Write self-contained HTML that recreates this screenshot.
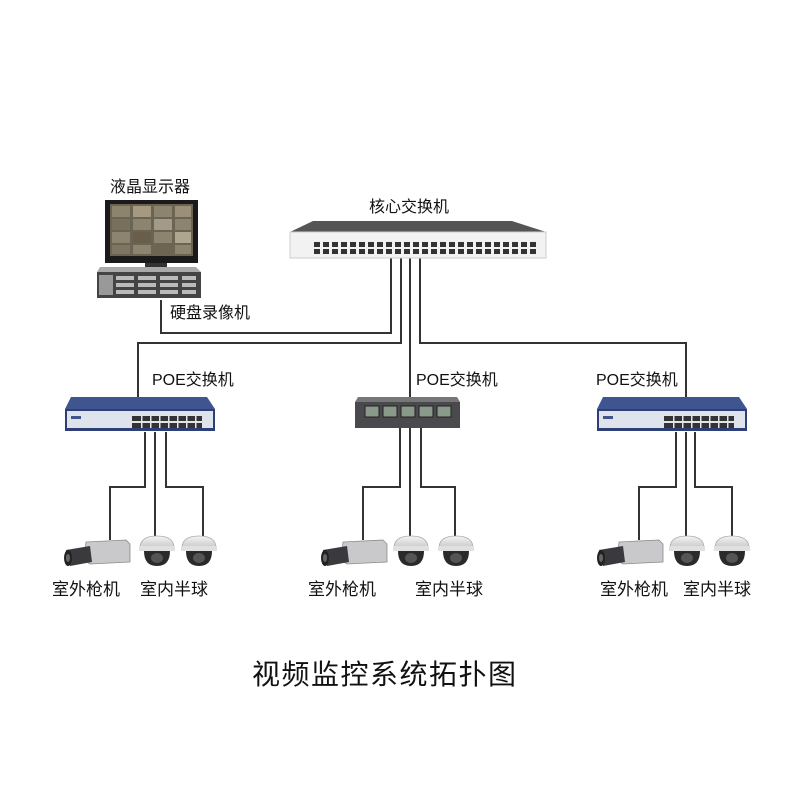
<!DOCTYPE html>
<html><head><meta charset="utf-8"><style>
html,body{margin:0;padding:0;background:#fff;}
svg{display:block}
text{font-family:"Liberation Sans","Noto Sans CJK SC",sans-serif;fill:#111;}
</style></head><body>
<svg width="800" height="785" viewBox="0 0 800 785" xmlns="http://www.w3.org/2000/svg">
<defs>
  <linearGradient id="dome" x1="0" y1="0" x2="0" y2="1"><stop offset="0" stop-color="#f4f4f4"/><stop offset="1" stop-color="#c8c8c8"/></linearGradient>
  <g id="bullet">
    <path d="M22 6 L62 4 L66 8 L66 26 L26 28 L20 24 Z" fill="#c9c9cc" stroke="#8a8a90" stroke-width="0.8"/>
    <path d="M2 14 L26 10 L28 26 L6 30 Z" fill="#3a3a3e"/>
    <ellipse cx="4" cy="22" rx="4" ry="8" fill="#222"/>
    <ellipse cx="4" cy="22" rx="2" ry="4" fill="#666"/>
  </g>
  <g id="domecam">
    <path d="M2 14 Q2 2 19 2 Q36 2 36 14 Z" fill="url(#dome)" stroke="#aaa" stroke-width="0.8"/>
    <rect x="1" y="12" width="36" height="5" fill="#e0e0e0"/>
    <path d="M6 17 Q6 32 19 32 Q32 32 32 17 Z" fill="#2a2a2a"/>
    <ellipse cx="19" cy="24" rx="6" ry="5" fill="#555"/>
  </g>
  <g id="poe">
    <path d="M6 0 L142 0 L150 12 L0 12 Z" fill="#3f5590"/>
    <rect x="0" y="12" width="150" height="22" fill="#2e3f78"/>
    <rect x="2" y="14" width="146" height="17" fill="#dfe3ec"/>
    <rect x="6" y="19" width="10" height="3" fill="#3f5590"/>
  </g>
</defs>

<!-- connector lines -->
<g fill="none" stroke="#333" stroke-width="2">
  <polyline points="161,300 161,333 391,333 391,258"/>
  <polyline points="138,397 138,343 401,343 401,258"/>
  <polyline points="410,258 410,398"/>
  <polyline points="686,397 686,343 420,343 420,258"/>
  <!-- left group -->
  <polyline points="145,432 145,487 110,487 110,540"/>
  <polyline points="155,432 155,536"/>
  <polyline points="166,432 166,487 203,487 203,537"/>
  <!-- center group -->
  <polyline points="400,428 400,487 363,487 363,540"/>
  <polyline points="410,428 410,536"/>
  <polyline points="421,428 421,487 455,487 455,537"/>
  <!-- right group -->
  <polyline points="676,432 676,487 639,487 639,540"/>
  <polyline points="686,432 686,536"/>
  <polyline points="695,432 695,487 732,487 732,537"/>
</g>

<!-- monitor -->
<rect x="105" y="200" width="93" height="63" fill="#1a1a1a"/>
<rect x="110" y="204" width="83" height="52" fill="#6b6452"/>
<g fill="#8d8470">
  <rect x="112" y="206" width="18" height="11"/><rect x="133" y="206" width="18" height="11" fill="#a59a80"/><rect x="154" y="206" width="18" height="11"/><rect x="175" y="206" width="16" height="11" fill="#9a8f78"/>
  <rect x="112" y="219" width="18" height="11" fill="#7a6e5c"/><rect x="133" y="219" width="18" height="11"/><rect x="154" y="219" width="18" height="11" fill="#a39a8a"/><rect x="175" y="219" width="16" height="11"/>
  <rect x="112" y="232" width="18" height="11"/><rect x="133" y="232" width="18" height="11" fill="#6a5e4a"/><rect x="154" y="232" width="18" height="11"/><rect x="175" y="232" width="16" height="11" fill="#b0a690"/>
  <rect x="112" y="245" width="18" height="9" fill="#7f7565"/><rect x="133" y="245" width="18" height="9"/><rect x="154" y="245" width="18" height="9" fill="#6e6452"/><rect x="175" y="245" width="16" height="9"/>
</g>
<rect x="145" y="263" width="22" height="4" fill="#333"/>
<!-- NVR -->
<path d="M100 267 L196 267 L201 272 L97 272 Z" fill="#aaa"/>
<rect x="97" y="272" width="104" height="26" fill="#444"/>
<g fill="#bbb">
  <rect x="116" y="276" width="18" height="4"/><rect x="138" y="276" width="18" height="4"/><rect x="160" y="276" width="18" height="4"/><rect x="182" y="276" width="14" height="4"/>
  <rect x="116" y="283" width="18" height="4"/><rect x="138" y="283" width="18" height="4"/><rect x="160" y="283" width="18" height="4"/><rect x="182" y="283" width="14" height="4"/>
  <rect x="116" y="290" width="18" height="4"/><rect x="138" y="290" width="18" height="4"/><rect x="160" y="290" width="18" height="4"/><rect x="182" y="290" width="14" height="4"/>
</g>
<rect x="99" y="275" width="14" height="20" fill="#999"/>

<!-- core switch -->
<path d="M313 221 L512 221 L546 232 L290 232 Z" fill="#555"/>
<rect x="290" y="232" width="256" height="26" fill="#f2f2f2" stroke="#ccc" stroke-width="1"/>
<g fill="#333" id="ports">
  <rect x="314" y="242" width="6" height="5"/><rect x="314" y="249" width="6" height="5"/>
</g>
<g fill="#333">
  <script type="text/plain"></script>
</g>
<g fill="#333">
<rect x="323" y="242" width="6" height="5"/><rect x="332" y="242" width="6" height="5"/><rect x="341" y="242" width="6" height="5"/><rect x="350" y="242" width="6" height="5"/><rect x="359" y="242" width="6" height="5"/><rect x="368" y="242" width="6" height="5"/><rect x="377" y="242" width="6" height="5"/><rect x="386" y="242" width="6" height="5"/><rect x="395" y="242" width="6" height="5"/><rect x="404" y="242" width="6" height="5"/><rect x="413" y="242" width="6" height="5"/><rect x="422" y="242" width="6" height="5"/><rect x="431" y="242" width="6" height="5"/><rect x="440" y="242" width="6" height="5"/><rect x="449" y="242" width="6" height="5"/><rect x="458" y="242" width="6" height="5"/><rect x="467" y="242" width="6" height="5"/><rect x="476" y="242" width="6" height="5"/><rect x="485" y="242" width="6" height="5"/><rect x="494" y="242" width="6" height="5"/><rect x="503" y="242" width="6" height="5"/><rect x="512" y="242" width="6" height="5"/><rect x="521" y="242" width="6" height="5"/><rect x="530" y="242" width="6" height="5"/>
<rect x="323" y="249" width="6" height="5"/><rect x="332" y="249" width="6" height="5"/><rect x="341" y="249" width="6" height="5"/><rect x="350" y="249" width="6" height="5"/><rect x="359" y="249" width="6" height="5"/><rect x="368" y="249" width="6" height="5"/><rect x="377" y="249" width="6" height="5"/><rect x="386" y="249" width="6" height="5"/><rect x="395" y="249" width="6" height="5"/><rect x="404" y="249" width="6" height="5"/><rect x="413" y="249" width="6" height="5"/><rect x="422" y="249" width="6" height="5"/><rect x="431" y="249" width="6" height="5"/><rect x="440" y="249" width="6" height="5"/><rect x="449" y="249" width="6" height="5"/><rect x="458" y="249" width="6" height="5"/><rect x="467" y="249" width="6" height="5"/><rect x="476" y="249" width="6" height="5"/><rect x="485" y="249" width="6" height="5"/><rect x="494" y="249" width="6" height="5"/><rect x="503" y="249" width="6" height="5"/><rect x="512" y="249" width="6" height="5"/><rect x="521" y="249" width="6" height="5"/><rect x="530" y="249" width="6" height="5"/>
</g>

<!-- POE switches -->
<g transform="translate(65,397)"><use href="#poe"/>
  <g fill="#333"><rect x="70" y="16" width="90" height="5" opacity="0"/></g>
</g>
<g transform="translate(597,397)"><use href="#poe"/></g>
<g fill="#333">
  <rect x="132" y="416" width="70" height="5"/><rect x="132" y="423" width="70" height="5"/>
  <rect x="664" y="416" width="70" height="5"/><rect x="664" y="423" width="70" height="5"/>
</g>
<g fill="#dfe3ec">
  <rect x="141" y="416" width="1.5" height="12"/><rect x="150" y="416" width="1.5" height="12"/><rect x="159" y="416" width="1.5" height="12"/><rect x="168" y="416" width="1.5" height="12"/><rect x="177" y="416" width="1.5" height="12"/><rect x="186" y="416" width="1.5" height="12"/><rect x="195" y="416" width="1.5" height="12"/>
  <rect x="673" y="416" width="1.5" height="12"/><rect x="682" y="416" width="1.5" height="12"/><rect x="691" y="416" width="1.5" height="12"/><rect x="700" y="416" width="1.5" height="12"/><rect x="709" y="416" width="1.5" height="12"/><rect x="718" y="416" width="1.5" height="12"/><rect x="727" y="416" width="1.5" height="12"/>
</g>
<!-- center small switch -->
<path d="M358 397 L457 397 L460 402 L355 402 Z" fill="#777"/>
<rect x="355" y="402" width="105" height="26" fill="#4a4a4e"/>
<g fill="#8a9a8a" stroke="#222" stroke-width="1">
  <rect x="365" y="406" width="14" height="11"/><rect x="383" y="406" width="14" height="11"/><rect x="401" y="406" width="14" height="11"/><rect x="419" y="406" width="14" height="11"/><rect x="437" y="406" width="14" height="11"/>
</g>

<!-- cameras -->
<use href="#bullet" x="64" y="536"/>
<use href="#domecam" x="138" y="534"/>
<use href="#domecam" x="180" y="534"/>
<use href="#bullet" x="321" y="536"/>
<use href="#domecam" x="392" y="534"/>
<use href="#domecam" x="437" y="534"/>
<use href="#bullet" x="597" y="536"/>
<use href="#domecam" x="668" y="534"/>
<use href="#domecam" x="713" y="534"/>

<!-- labels -->
<g font-size="16">
  <text x="110" y="192">液晶显示器</text>
  <text x="369" y="212">核心交换机</text>
  <text x="170" y="318">硬盘录像机</text>
  <text x="152" y="385">POE交换机</text>
  <text x="416" y="385">POE交换机</text>
  <text x="596" y="385">POE交换机</text>
  <text x="52" y="595" font-size="17">室外枪机</text>
  <text x="140" y="595" font-size="17">室内半球</text>
  <text x="308" y="595" font-size="17">室外枪机</text>
  <text x="415" y="595" font-size="17">室内半球</text>
  <text x="600" y="595" font-size="17">室外枪机</text>
  <text x="683" y="595" font-size="17">室内半球</text>
</g>
<text x="252" y="684" font-size="28" letter-spacing="1.5">视频监控系统拓扑图</text>
</svg>
</body></html>
